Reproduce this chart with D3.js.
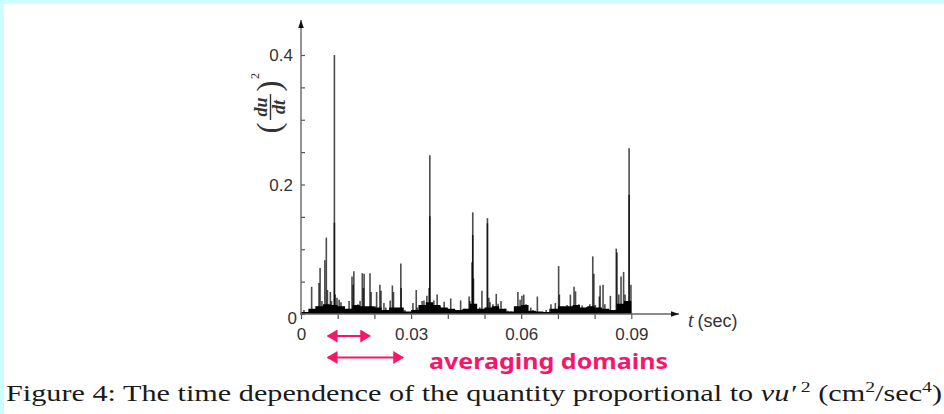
<!DOCTYPE html>
<html>
<head>
<meta charset="utf-8">
<script src="https://cdn.jsdelivr.net/npm/d3@7"></script>
<style>
  html, body { margin: 0; padding: 0; background: #fff; }
  svg { display: block; }
</style>
</head>
<body>
<div id="graph"></div>
<script>
// spikes of (du/dt)^2: time (sec) and value
var spikeTime = [
  0.0008, 0.0029, 0.0041, 0.0049, 0.0052, 0.0057, 0.0065, 0.0069, 0.0072, 0.0080,
  0.0083, 0.0091, 0.0091, 0.0093, 0.0098, 0.0104, 0.0109, 0.0117, 0.0131, 0.0139,
  0.0142, 0.0144, 0.0155, 0.0161, 0.0167, 0.0170, 0.0172, 0.0180, 0.0188, 0.0191,
  0.0202, 0.0206, 0.0215, 0.0218, 0.0226, 0.0231, 0.0243, 0.0249, 0.0252, 0.0262,
  0.0272, 0.0273, 0.0283, 0.0305, 0.0314, 0.0317, 0.0330, 0.0335, 0.0343, 0.0349,
  0.0351, 0.0351, 0.0362, 0.0371, 0.0379, 0.0390, 0.0398, 0.0408, 0.0420, 0.0435,
  0.0447, 0.0458, 0.0460, 0.0466, 0.0468, 0.0468, 0.0470, 0.0477, 0.0487, 0.0493,
  0.0501, 0.0508, 0.0508, 0.0512, 0.0515, 0.0523, 0.0532, 0.0537, 0.0545, 0.0555,
  0.0564, 0.0572, 0.0591, 0.0597, 0.0602, 0.0607, 0.0613, 0.0626, 0.0632, 0.0644,
  0.0654, 0.0668, 0.0678, 0.0681, 0.0693, 0.0702, 0.0704, 0.0714, 0.0725, 0.0734,
  0.0744, 0.0748, 0.0757, 0.0766, 0.0779, 0.0787, 0.0795, 0.0798, 0.0802, 0.0813,
  0.0815, 0.0823, 0.0828, 0.0843, 0.0847, 0.0859, 0.0861, 0.0866, 0.0872, 0.0879,
  0.0883, 0.0894, 0.0894, 0.0899
];
var spikeValue = [
  0.006, 0.042, 0.012, 0.048, 0.071, 0.020, 0.083, 0.118, 0.037, 0.034,
  0.020, 0.400, 0.141, 0.030, 0.025, 0.022, 0.018, 0.010, 0.020, 0.058,
  0.045, 0.066, 0.015, 0.020, 0.063, 0.040, 0.062, 0.010, 0.063, 0.034,
  0.012, 0.034, 0.045, 0.036, 0.017, 0.010, 0.021, 0.044, 0.034, 0.006,
  0.078, 0.040, 0.006, 0.017, 0.037, 0.010, 0.020, 0.021, 0.028, 0.040,
  0.245, 0.151, 0.021, 0.030, 0.012, 0.019, 0.008, 0.024, 0.006, 0.021,
  0.008, 0.027, 0.020, 0.080, 0.157, 0.122, 0.055, 0.015, 0.010, 0.036,
  0.004, 0.148, 0.140, 0.025, 0.018, 0.015, 0.031, 0.016, 0.020, 0.008,
  0.005, 0.004, 0.034, 0.022, 0.028, 0.030, 0.015, 0.010, 0.006, 0.027,
  0.003, 0.006, 0.008, 0.015, 0.017, 0.074, 0.030, 0.010, 0.014, 0.030,
  0.042, 0.035, 0.015, 0.013, 0.011, 0.015, 0.089, 0.062, 0.014, 0.027,
  0.044, 0.045, 0.015, 0.028, 0.006, 0.101, 0.095, 0.030, 0.058, 0.065,
  0.030, 0.256, 0.184, 0.045
];
// dense low-level background, one level per 0.002 sec
var floorLevel = [
  0.003, 0.008, 0.012, 0.015, 0.014, 0.012, 0.008, 0.014, 0.012, 0.012,
  0.010, 0.006, 0.010, 0.010, 0.004, 0.006, 0.014, 0.018, 0.014, 0.010,
  0.008, 0.006, 0.008, 0.016, 0.008, 0.010, 0.012, 0.008, 0.004, 0.012,
  0.014, 0.005, 0.004, 0.003, 0.008, 0.012, 0.012, 0.014, 0.010, 0.012,
  0.010, 0.008, 0.006, 0.016, 0.020
];
var floorStep = 0.002;

var yTicks = [0, 0.05, 0.1, 0.15, 0.2, 0.25, 0.3, 0.35, 0.4];
var yLabels = [0, 0.2, 0.4];
var xTicks = [0, 0.01, 0.02, 0.03, 0.04, 0.05, 0.06, 0.07, 0.08, 0.09];
var xLabels = [0, 0.03, 0.06, 0.09];

// averaging domains (sec), start and end of each arrow
var domainStart = [0.0073, 0.0073];
var domainEnd = [0.0188, 0.0278];

var width = 944, height = 414;
var x0 = 301, y0 = 314;
var serif = "'Liberation Serif', 'Times New Roman', serif";
var sans = "'Liberation Sans', Arial, sans-serif";

var svg = d3.select('#graph').append('svg')
    .attr('width', width).attr('height', height);

var x = d3.scaleLinear().domain([0, 0.09]).range([x0, 631.3]);
var y = d3.scaleLinear().domain([0, 0.4]).range([y0, 55]);

// frame
svg.append('rect').attr('x', 0).attr('y', 0).attr('width', width).attr('height', 4).attr('fill', '#ccffff');
svg.append('rect').attr('x', 0).attr('y', 0).attr('width', 4).attr('height', height).attr('fill', '#ccffff');

var defs = svg.append('defs');
defs.append('marker')
  .attr('id', 'axisArrow')
  .attr('viewBox', '0 -5 10 10')
  .attr('refX', 10).attr('refY', 0)
  .attr('markerWidth', 8).attr('markerHeight', 8)
  .attr('markerUnits', 'userSpaceOnUse')
  .attr('orient', 'auto')
  .append('path').attr('d', 'M0,-3.5 L10,0 L0,3.5 Z').attr('fill', '#111');
['redEnd', 'redStart'].forEach(function(id, i) {
  defs.append('marker')
    .attr('id', id)
    .attr('viewBox', '0 -6 10 12')
    .attr('refX', 9).attr('refY', 0)
    .attr('markerWidth', 11).attr('markerHeight', 13)
    .attr('markerUnits', 'userSpaceOnUse')
    .attr('orient', i === 0 ? 'auto' : 'auto-start-reverse')
    .append('path').attr('d', 'M0,-6 L10,0 L0,6 Z').attr('fill', '#f5176b');
});

// floor of the signal
var floorData = floorLevel.map(function(v, i) { return {t: i * floorStep, v: v}; });
floorData.push({t: floorLevel.length * floorStep, v: floorLevel[floorLevel.length - 1]});
svg.append('path')
  .datum(floorData)
  .attr('fill', '#000')
  .attr('d', d3.area().curve(d3.curveStepAfter)
    .x(function(d) { return x(d.t); })
    .y0(y0).y1(function(d) { return y(d.v); }));

// spikes
var spikes = spikeTime.map(function(t, i) { return {t: t, v: spikeValue[i]}; });
svg.append('g').selectAll('line').data(spikes).enter().append('line')
  .attr('x1', function(d) { return x(d.t); })
  .attr('x2', function(d) { return x(d.t); })
  .attr('y1', y0)
  .attr('y2', function(d) { return y(d.v); })
  .attr('stroke', '#000')
  .attr('stroke-opacity', 0.7)
  .attr('stroke-width', 1.6);

// axes
var yAxis = svg.append('g').attr('transform', 'translate(' + x0 + ',0)')
  .call(d3.axisLeft(y).tickValues(yTicks).tickSize(-4).tickPadding(8)
    .tickFormat(function(d) { return yLabels.indexOf(d) >= 0 ? d3.format('')(d) : ''; }));
var xAxis = svg.append('g').attr('transform', 'translate(0,' + y0 + ')')
  .call(d3.axisBottom(x).tickValues(xTicks).tickSize(5).tickPadding(9)
    .tickFormat(function(d) { return xLabels.indexOf(d) >= 0 ? d3.format('')(d) : ''; }));
[yAxis, xAxis].forEach(function(a) {
  a.select('.domain').remove();
  a.selectAll('line').attr('stroke', '#555').attr('stroke-width', 1.2);
  a.selectAll('text').attr('fill', '#333')
    .style('font-family', sans).style('font-size', '17px');
});
yAxis.selectAll('text').attr('dy', function(d) { return d === 0 ? '0.55em' : '0.35em'; })
  .attr('x', function(d) { return d === 0 ? -4 : -8; });

svg.append('line').attr('x1', x0).attr('y1', y0 + 1).attr('x2', x0).attr('y2', 20)
  .attr('stroke', '#666').attr('stroke-width', 1.4).attr('marker-end', 'url(#axisArrow)');
svg.append('line').attr('x1', x0 - 1).attr('y1', y0).attr('x2', 679).attr('y2', y0)
  .attr('stroke', '#666').attr('stroke-width', 1.4).attr('marker-end', 'url(#axisArrow)');

// axis titles
var tl = svg.append('text').attr('x', 688).attr('y', 327)
  .style('font-family', sans).style('font-size', '18px').attr('fill', '#333');
tl.append('tspan').style('font-style', 'italic').style('font-family', serif).style('font-size', '20px').text('t');
tl.append('tspan').attr('dx', 4).text('(sec)');

var yl = svg.append('g').attr('transform', 'translate(270.5,107) rotate(-90)')
  .style('font-family', serif).attr('fill', '#333');
yl.append('text').attr('x', -21).attr('y', 9).style('font-size', '33px').attr('text-anchor', 'middle').text('(');
yl.append('text').attr('x', 21).attr('y', 9).style('font-size', '33px').attr('text-anchor', 'middle').text(')');
yl.append('text').attr('x', 0).attr('y', -4).style('font-size', '18px').style('font-style', 'italic')
  .style('font-weight', 'bold').attr('text-anchor', 'middle').text('du');
yl.append('text').attr('x', 0).attr('y', 14).style('font-size', '18px').style('font-style', 'italic')
  .style('font-weight', 'bold').attr('text-anchor', 'middle').text('dt');
yl.append('line').attr('x1', -13).attr('x2', 13).attr('y1', 0).attr('y2', 0).attr('stroke', '#333').attr('stroke-width', 1.4);
yl.append('text').attr('x', 31).attr('y', -12).style('font-size', '12px').attr('text-anchor', 'middle').text('2');

// averaging domain arrows
var arrowY = [336, 357.5];
domainStart.forEach(function(s, i) {
  svg.append('line')
    .attr('x1', x(s)).attr('x2', x(domainEnd[i]))
    .attr('y1', arrowY[i]).attr('y2', arrowY[i])
    .attr('stroke', '#f5176b').attr('stroke-width', 2.2)
    .attr('marker-start', 'url(#redStart)').attr('marker-end', 'url(#redEnd)');
});
svg.append('text').attr('x', 429).attr('y', 369)
  .attr('fill', '#f5176b')
  .style('font-family', "'Noto Sans', sans-serif").style('font-size', '21px').style('font-weight', 'bold')
  .attr('textLength', 239).attr('lengthAdjust', 'spacingAndGlyphs')
  .text('averaging domains');

// caption
var cap = svg.append('text').attr('x', 6).attr('y', 401)
  .attr('fill', '#1a1a1a')
  .style('font-family', serif).style('font-size', '23px')
  .attr('textLength', 936).attr('lengthAdjust', 'spacingAndGlyphs');
cap.append('tspan').text('Figure 4: The time dependence of the quantity proportional to ');
cap.append('tspan').style('font-style', 'italic').text('\u03BDu\u2032');
cap.append('tspan').attr('dy', -9).style('font-size', '15px').text(' 2');
cap.append('tspan').attr('dy', 9).text(' (cm');
cap.append('tspan').attr('dy', -9).style('font-size', '15px').text('2');
cap.append('tspan').attr('dy', 9).text('/sec');
cap.append('tspan').attr('dy', -9).style('font-size', '15px').text('4');
cap.append('tspan').attr('dy', 9).text(')');
</script>
</body>
</html>
